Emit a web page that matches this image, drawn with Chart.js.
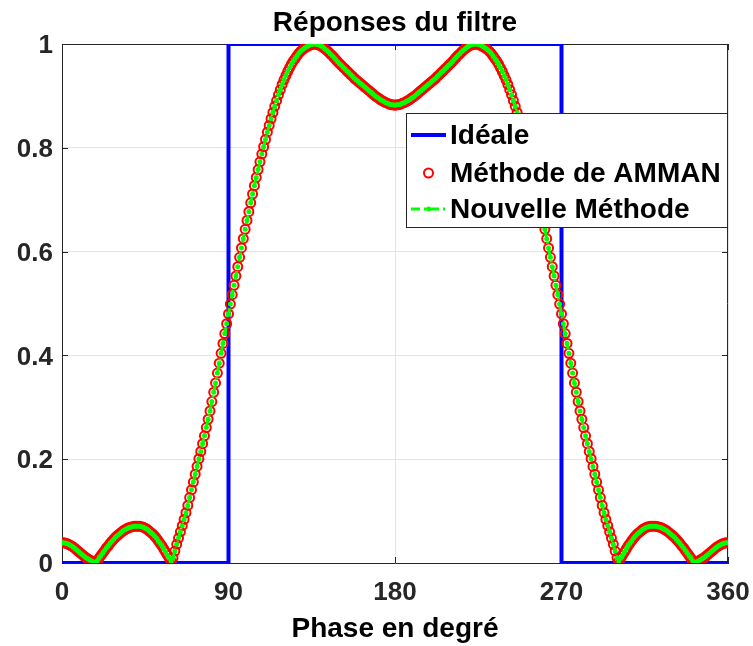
<!DOCTYPE html>
<html lang="fr">
<head>
<meta charset="utf-8">
<title>Réponses du filtre</title>
<script src="https://cdn.jsdelivr.net/npm/chart.js@4.4.1/dist/chart.umd.min.js"></script>
<style>
  html, body { margin: 0; padding: 0; background: #fff; }
  #wrap { width: 753px; height: 646px; }
</style>
</head>
<body>
<div id="wrap"><canvas id="filtre" width="753" height="646"></canvas></div>
<script>
// ---------- data ----------
const xTicks = [0, 90, 180, 270, 360];
const yTicks = [0, 0.2, 0.4, 0.6, 0.8, 1];
const yTickLabels = ['0', '0.2', '0.4', '0.6', '0.8', '1'];

// ideal band-pass: 0 outside [90, 270], 1 inside
const idealPhase = [0, 90, 90, 270, 270, 360];
const idealGain  = [0, 0, 1, 1, 0, 0];

// sampled every degree, 0..360
const phase = Array.from({ length: 361 }, (_, i) => i);

const ammanGain = [
  .039,.039,.038,.037,.035,.033,.031,.028,.025,.022,
  .019,.016,.013,.010,.008,.006,.004,.002,.001,.004,
  .009,.014,.019,.024,.029,.033,.038,.042,.046,.050,
  .053,.056,.059,.062,.064,.066,.068,.069,.070,.071,
  .071,.071,.071,.070,.069,.067,.065,.062,.059,.056,
  .052,.048,.043,.038,.033,.027,.021,.015,.009,.003,
  .010,.023,.036,.048,.060,.072,.084,.097,.111,.126,
  .141,.156,.171,.186,.201,.215,.230,.245,.261,.277,
  .293,.311,.329,.347,.366,.385,.404,.423,.442,.461,
  .480,.499,.517,.535,.553,.571,.589,.607,.625,.643,
  .660,.677,.694,.711,.727,.743,.758,.773,.788,.802,
  .816,.830,.843,.856,.868,.880,.891,.902,.912,.922,
  .931,.939,.947,.954,.961,.967,.972,.977,.982,.986,
  .989,.992,.994,.996,.998,.999,1.00,1.00,.999,.998,
  .996,.994,.991,.988,.985,.981,.978,.974,.970,.966,
  .962,.959,.955,.952,.948,.945,.941,.938,.934,.931,
  .928,.925,.922,.919,.916,.913,.910,.907,.904,.901,
  .898,.896,.893,.891,.889,.887,.886,.884,.883,.883,
  .882,
  .883,.883,.884,.886,.887,.889,.891,.893,.896,.898,
  .901,.904,.907,.910,.913,.916,.919,.922,.925,.928,
  .931,.934,.938,.941,.945,.948,.952,.955,.959,.962,
  .966,.970,.974,.978,.981,.985,.988,.991,.994,.996,
  .998,.999,1.00,1.00,.999,.998,.996,.994,.992,.989,
  .986,.982,.977,.972,.967,.961,.954,.947,.939,.931,
  .922,.912,.902,.891,.880,.868,.856,.843,.830,.816,
  .802,.788,.773,.758,.743,.727,.711,.694,.677,.660,
  .643,.625,.607,.589,.571,.553,.535,.517,.499,.480,
  .461,.442,.423,.404,.385,.366,.347,.329,.311,.293,
  .277,.261,.245,.230,.215,.201,.186,.171,.156,.141,
  .126,.111,.097,.084,.072,.060,.048,.036,.023,.010,
  .003,.009,.015,.021,.027,.033,.038,.043,.048,.052,
  .056,.059,.062,.065,.067,.069,.070,.071,.071,.071,
  .071,.070,.069,.068,.066,.064,.062,.059,.056,.053,
  .050,.046,.042,.038,.033,.029,.024,.019,.014,.009,
  .004,.001,.002,.004,.006,.008,.010,.013,.016,.019,
  .022,.025,.028,.031,.033,.035,.037,.038,.039,.039
];

const nouvelleGain = [
  .039,.039,.038,.037,.035,.033,.031,.028,.025,.022,
  .019,.016,.013,.010,.008,.006,.004,.002,.001,.004,
  .009,.014,.019,.024,.029,.033,.038,.042,.046,.050,
  .053,.056,.059,.062,.064,.066,.068,.069,.070,.071,
  .071,.071,.071,.070,.069,.067,.065,.062,.059,.056,
  .052,.048,.043,.038,.033,.027,.021,.015,.009,.003,
  .010,.023,.036,.048,.060,.072,.084,.097,.111,.126,
  .141,.156,.171,.186,.201,.215,.230,.245,.261,.277,
  .293,.311,.329,.347,.366,.385,.404,.423,.442,.461,
  .480,.499,.517,.535,.553,.571,.589,.607,.625,.643,
  .660,.677,.694,.711,.727,.743,.758,.773,.788,.802,
  .816,.830,.843,.856,.868,.880,.891,.902,.912,.922,
  .931,.939,.947,.954,.961,.967,.972,.977,.982,.986,
  .989,.992,.994,.996,.998,.999,1.00,1.00,.999,.998,
  .996,.994,.991,.988,.985,.981,.978,.974,.970,.966,
  .962,.959,.955,.952,.948,.945,.941,.938,.934,.931,
  .928,.925,.922,.919,.916,.913,.910,.907,.904,.901,
  .898,.896,.893,.891,.889,.887,.886,.884,.883,.883,
  .882,
  .883,.883,.884,.886,.887,.889,.891,.893,.896,.898,
  .901,.904,.907,.910,.913,.916,.919,.922,.925,.928,
  .931,.934,.938,.941,.945,.948,.952,.955,.959,.962,
  .966,.970,.974,.978,.981,.985,.988,.991,.994,.996,
  .998,.999,1.00,1.00,.999,.998,.996,.994,.992,.989,
  .986,.982,.977,.972,.967,.961,.954,.947,.939,.931,
  .922,.912,.902,.891,.880,.868,.856,.843,.830,.816,
  .802,.788,.773,.758,.743,.727,.711,.694,.677,.660,
  .643,.625,.607,.589,.571,.553,.535,.517,.499,.480,
  .461,.442,.423,.404,.385,.366,.347,.329,.311,.293,
  .277,.261,.245,.230,.215,.201,.186,.171,.156,.141,
  .126,.111,.097,.084,.072,.060,.048,.036,.023,.010,
  .003,.009,.015,.021,.027,.033,.038,.043,.048,.052,
  .056,.059,.062,.065,.067,.069,.070,.071,.071,.071,
  .071,.070,.069,.068,.066,.064,.062,.059,.056,.053,
  .050,.046,.042,.038,.033,.029,.024,.019,.014,.009,
  .004,.001,.002,.004,.006,.008,.010,.013,.016,.019,
  .022,.025,.028,.031,.033,.035,.037,.038,.039,.039
];

const labels = ['Idéale', 'Méthode de AMMAN', 'Nouvelle Méthode'];

// ---------- styling helpers ----------
const FONT = '"Liberation Sans", Arial, Helvetica, sans-serif';
const AXIS_COL = '#262626';
const TICK_LEN = 6;

function toPoints(xs, ys) { return xs.map((x, i) => ({ x, y: ys[i] })); }

// top/right box lines and inward tick marks
const cadre = {
  id: 'cadre',
  beforeDatasetsDraw(chart) {
    const { ctx, chartArea: a, scales: { x, y } } = chart;
    ctx.save();
    ctx.strokeStyle = AXIS_COL;
    ctx.lineWidth = 1;
    ctx.beginPath();
    ctx.moveTo(a.left, a.top + 0.5); ctx.lineTo(a.right, a.top + 0.5);
    ctx.moveTo(a.right - 0.5, a.top); ctx.lineTo(a.right - 0.5, a.bottom);
    xTicks.forEach(v => {
      const px = Math.round(x.getPixelForValue(v)) + 0.5;
      ctx.moveTo(px, a.bottom); ctx.lineTo(px, a.bottom - TICK_LEN);
      ctx.moveTo(px, a.top); ctx.lineTo(px, a.top + TICK_LEN);
    });
    yTicks.forEach(v => {
      const py = Math.round(y.getPixelForValue(v)) + 0.5;
      ctx.moveTo(a.left, py); ctx.lineTo(a.left + TICK_LEN, py);
      ctx.moveTo(a.right, py); ctx.lineTo(a.right - TICK_LEN, py);
    });
    ctx.stroke();
    ctx.restore();
  }
};

// legend box drawn inside the plot, over the curves
const legendeInterne = {
  id: 'legendeInterne',
  afterDatasetsDraw(chart) {
    const { ctx, chartArea: a } = chart;
    const w = 322, h = 115;
    const bx = a.right - w, by = a.top + 69;
    const rows = [22, 60, 96];
    ctx.save();
    ctx.fillStyle = '#fff';
    ctx.fillRect(bx, by, w, h);
    ctx.strokeStyle = AXIS_COL;
    ctx.lineWidth = 1;
    ctx.strokeRect(bx + 0.5, by + 0.5, w - 1, h - 1);
    chart.data.datasets.forEach((ds, i) => {
      const cy = by + rows[i];
      const x0 = bx + 5, x1 = bx + 40, xm = (x0 + x1) / 2;
      if (ds.showLine) {
        ctx.strokeStyle = ds.borderColor;
        ctx.lineWidth = ds.borderWidth;
        ctx.setLineDash(ds.borderDash || []);
        ctx.beginPath(); ctx.moveTo(x0, cy); ctx.lineTo(x1, cy); ctx.stroke();
        ctx.setLineDash([]);
      }
      if (ds.pointRadius > 0) {
        ctx.beginPath();
        ctx.arc(xm, cy, ds.pointRadius, 0, Math.PI * 2);
        ctx.fillStyle = ds.pointBackgroundColor;
        ctx.fill();
        if (ds.pointBorderWidth > 0) {
          ctx.strokeStyle = ds.pointBorderColor;
          ctx.lineWidth = ds.pointBorderWidth;
          ctx.stroke();
        }
      }
      ctx.fillStyle = '#000';
      ctx.font = `bold 28px ${FONT}`;
      ctx.textBaseline = 'middle';
      ctx.textAlign = 'left';
      ctx.fillText(ds.label, bx + 44, cy + 1);
    });
    ctx.restore();
  }
};

// title centred over the plot area
const titre = {
  id: 'titre',
  afterDraw(chart) {
    const { ctx, chartArea: a } = chart;
    ctx.save();
    ctx.font = `bold 28px ${FONT}`;
    ctx.fillStyle = '#000';
    ctx.textAlign = 'center';
    ctx.textBaseline = 'alphabetic';
    ctx.fillText('Réponses du filtre', (a.left + a.right) / 2, 31);
    ctx.restore();
  }
};

// ---------- Chart.js setup ----------
const ctx = document.getElementById('filtre').getContext('2d');

new Chart(ctx, {
  type: 'scatter',
  data: {
    datasets: [
      {
        label: labels[0],
        data: toPoints(idealPhase, idealGain),
        showLine: true,
        borderColor: '#0000ff',
        borderWidth: 4,
        pointRadius: 0,
        order: 3
      },
      {
        label: labels[1],
        data: toPoints(phase, ammanGain),
        showLine: false,
        pointRadius: 4.5,
        pointBorderWidth: 2,
        pointBorderColor: '#ff0000',
        pointBackgroundColor: 'rgba(255,255,255,0)',
        order: 2
      },
      {
        label: labels[2],
        data: toPoints(phase, nouvelleGain),
        showLine: true,
        borderColor: '#00ff00',
        borderWidth: 3,
        borderDash: [9, 4, 2, 4],
        pointRadius: 2.5,
        pointBorderWidth: 0,
        pointBackgroundColor: '#00ff00',
        order: 1
      }
    ]
  },
  options: {
    responsive: false,
    animation: false,
    layout: { padding: { top: 44, right: 25, left: 0, bottom: 0 } },
    plugins: {
      legend: { display: false },
      tooltip: { enabled: false },
      title: { display: false }
    },
    scales: {
      x: {
        type: 'linear',
        min: 0, max: 360,
        afterFit: s => { s.height = 83; s.paddingLeft = 0; s.paddingRight = 0; },
        afterBuildTicks: s => { s.ticks = xTicks.map(v => ({ value: v })); },
        grid: { color: '#e3e3e3', drawTicks: false },
        border: { color: AXIS_COL },
        ticks: {
          autoSkip: false, maxRotation: 0, padding: 14,
          color: AXIS_COL,
          font: { family: FONT, size: 26, weight: 'bold' }
        },
        title: {
          display: true,
          text: 'Phase en degré',
          color: '#000',
          padding: { top: 0, bottom: 0 },
          font: { family: FONT, size: 28, weight: 'bold' }
        }
      },
      y: {
        type: 'linear',
        min: 0, max: 1,
        afterFit: s => { s.width = 62; s.paddingTop = 0; s.paddingBottom = 0; },
        afterBuildTicks: s => { s.ticks = yTicks.map(v => ({ value: v })); },
        grid: { color: '#e3e3e3', drawTicks: false },
        border: { color: AXIS_COL },
        ticks: {
          autoSkip: false, padding: 9, labelOffset: 2,
          color: AXIS_COL,
          font: { family: FONT, size: 26, weight: 'bold' },
          callback: (v, i) => yTickLabels[i]
        }
      }
    }
  },
  plugins: [cadre, legendeInterne, titre]
});
</script>
</body>
</html>
